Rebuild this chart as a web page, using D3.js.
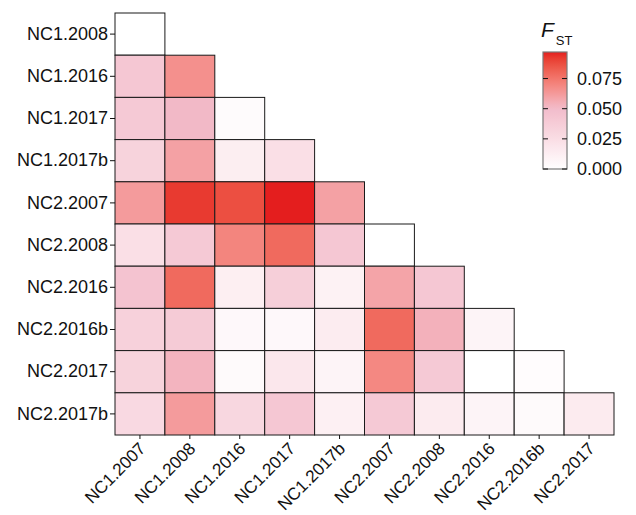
<!DOCTYPE html>
<html lang="en">
<head>
<meta charset="UTF-8">
<title>Fst heatmap</title>
<style>
body {
  margin: 0;
  background: #fff;
  font-family: 'Liberation Sans', Arial, Helvetica, sans-serif;
}
.axis text {
  font-size: 18px;
  fill: #111;
}
.axis line {
  stroke: #111;
}
.x.axis text {
  font-size: 17.2px;
}
.legend text {
  font-size: 18px;
  fill: #111;
}
</style>
</head>
<body>
<div id="chart"></div>
<script src="https://cdnjs.cloudflare.com/ajax/libs/d3/7.8.5/d3.min.js"></script>
<script>

var columns = ["NC1.2007", "NC1.2008", "NC1.2016", "NC1.2017", "NC1.2017b",
  "NC2.2007", "NC2.2008", "NC2.2016", "NC2.2016b", "NC2.2017"];

var rows = ["NC1.2008", "NC1.2016", "NC1.2017", "NC1.2017b", "NC2.2007",
  "NC2.2008", "NC2.2016", "NC2.2016b", "NC2.2017", "NC2.2017b"];

// lower triangle, row i holds i+1 values
var fst = [
  [0.000],
  [0.042, 0.066],
  [0.040, 0.051, 0.003],
  [0.033, 0.060, 0.013, 0.024],
  [0.062, 0.092, 0.087, 0.097, 0.060],
  [0.024, 0.040, 0.070, 0.079, 0.042, 0.000],
  [0.045, 0.079, 0.012, 0.036, 0.010, 0.059, 0.042],
  [0.034, 0.039, 0.005, 0.005, 0.014, 0.079, 0.054, 0.008],
  [0.033, 0.053, 0.004, 0.018, 0.008, 0.069, 0.040, 0.000, 0.002],
  [0.028, 0.062, 0.030, 0.042, 0.011, 0.040, 0.015, 0.008, 0.004, 0.015]
];

var legendTicks = [0, 0.025, 0.05, 0.075];
var fstMax = 0.097;

var width = 636;
var height = 515;

var svg = d3.select('#chart')
  .append('svg')
  .attr('width', width)
  .attr('height', height);

var x = d3.scaleBand()
  .domain(columns)
  .range([115, 614]);

var y = d3.scaleBand()
  .domain(rows)
  .range([13, 435]);

var color = d3.scaleLinear()
  .domain([0, 0.05, fstMax])
  .range(['#ffffff', '#f2bccb', '#e41e1e'])
  .interpolate(d3.interpolateLab)
  .clamp(true);

var cells = [];
fst.forEach(function (vals, i) {
  vals.forEach(function (v, j) {
    cells.push({ row: rows[i], col: columns[j], value: v });
  });
});

svg.append('g')
  .selectAll('rect')
  .data(cells)
  .enter()
  .append('rect')
  .attr('x', function (d) { return x(d.col); })
  .attr('y', function (d) { return y(d.row); })
  .attr('width', x.bandwidth())
  .attr('height', y.bandwidth())
  .attr('fill', function (d) { return color(d.value); })
  .attr('stroke', '#1a1a1a')
  .attr('stroke-width', 1);

var yAxis = svg.append('g')
  .attr('class', 'axis')
  .attr('transform', 'translate(115,0)')
  .call(d3.axisLeft(y).tickSize(5).tickPadding(2));
yAxis.select('.domain').remove();

var xAxis = svg.append('g')
  .attr('class', 'x axis')
  .attr('transform', 'translate(0,435)')
  .call(d3.axisBottom(x).tickSize(4).tickPadding(2));
xAxis.select('.domain').remove();
xAxis.selectAll('text')
  .attr('text-anchor', 'end')
  .attr('dx', '0.1em')
  .attr('dy', '0.55em')
  .attr('transform', 'translate(-5.5,5) rotate(-45)');

// colour bar
var ly = d3.scaleLinear()
  .domain([0, fstMax])
  .range([169, 52]);

var grad = svg.append('defs')
  .append('linearGradient')
  .attr('id', 'fstgrad')
  .attr('x1', 0).attr('y1', 1)
  .attr('x2', 0).attr('y2', 0);

d3.range(0, 1.0001, 0.05).forEach(function (t) {
  grad.append('stop')
    .attr('offset', t)
    .attr('stop-color', color(t * fstMax));
});

var legend = svg.append('g')
  .attr('class', 'legend');

legend.append('rect')
  .attr('x', 543)
  .attr('y', ly(fstMax))
  .attr('width', 24)
  .attr('height', ly(0) - ly(fstMax))
  .attr('fill', 'url(#fstgrad)')
  .attr('stroke', '#7a7a7a')
  .attr('stroke-width', 1.2);

legend.selectAll('.tl')
  .data(legendTicks)
  .enter()
  .append('line')
  .attr('x1', 543).attr('x2', 548)
  .attr('y1', ly).attr('y2', ly)
  .attr('stroke', '#111');

legend.selectAll('.tr')
  .data(legendTicks)
  .enter()
  .append('line')
  .attr('x1', 562).attr('x2', 567)
  .attr('y1', ly).attr('y2', ly)
  .attr('stroke', '#111');

legend.selectAll('.lab')
  .data(legendTicks)
  .enter()
  .append('text')
  .attr('x', 577)
  .attr('y', ly)
  .attr('dy', '0.35em')
  .text(d3.format('.3f'));

var title = legend.append('text')
  .attr('x', 541)
  .attr('y', 37);
title.append('tspan')
  .style('font-style', 'italic')
  .style('font-size', '21px')
  .text('F');
title.append('tspan')
  .attr('dx', 2)
  .attr('dy', 8)
  .style('font-size', '13px')
  .text('ST');

</script>
</body>
</html>
